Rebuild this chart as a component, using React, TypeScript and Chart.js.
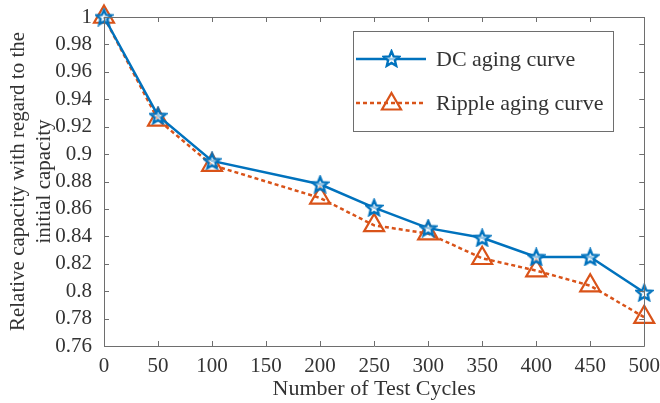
import React, { useEffect, useRef } from "react";
import { Chart, registerables } from "chart.js";

Chart.register(...registerables);

const cycles = [0, 50, 100, 200, 250, 300, 350, 400, 450, 500];
const dcValues = [1.0, 0.928, 0.895, 0.878, 0.861, 0.846, 0.839, 0.825, 0.825, 0.799];
const rippleValues = [1.0, 0.925, 0.892, 0.868, 0.848, 0.842, 0.824, 0.815, 0.804, 0.781];
const xTicks = [0, 50, 100, 150, 200, 250, 300, 350, 400, 450, 500];
const yTicks = [0.76, 0.78, 0.8, 0.82, 0.84, 0.86, 0.88, 0.9, 0.92, 0.94, 0.96, 0.98, 1];
const seriesNames = ["DC aging curve", "Ripple aging curve"];
const xTitle = "Number of Test Cycles";
const yTitle = ["Relative capacity with regard to the", "initial capacity"];

const BLUE = "#0072BD";
const ORANGE = "#D95319";
const AXIS = "#6e6e6e";
const TEXT = "#333333";
const FONT = "'Liberation Serif', 'Times New Roman', serif";

function makeStar(size: number, color: string): HTMLCanvasElement {
  const c = document.createElement("canvas");
  c.width = size;
  c.height = size;
  const ctx = c.getContext("2d")!;
  const cx = size / 2;
  const cy = size / 2 + 0.8;
  const R = size / 2 - 1.5;
  const r = R * 0.45;
  ctx.beginPath();
  for (let i = 0; i < 10; i++) {
    const rad = i % 2 === 0 ? R : r;
    const a = -Math.PI / 2 + (i * Math.PI) / 5;
    const px = cx + rad * Math.cos(a);
    const py = cy + rad * Math.sin(a);
    if (i === 0) ctx.moveTo(px, py);
    else ctx.lineTo(px, py);
  }
  ctx.closePath();
  ctx.fillStyle = "rgba(255,255,255,0.6)";
  ctx.fill();
  ctx.strokeStyle = color;
  ctx.lineWidth = 2.4;
  ctx.lineJoin = "miter";
  ctx.stroke();
  return c;
}

const boxPlugin = {
  id: "boxTicks",
  afterDatasetsDraw(chart: any) {
    const { ctx, chartArea } = chart;
    const { left, right, top, bottom } = chartArea;
    const xs = chart.scales.x;
    const ys = chart.scales.y;
    ctx.save();
    ctx.strokeStyle = AXIS;
    ctx.lineWidth = 1;
    ctx.beginPath();
    ctx.rect(Math.round(left) + 0.5, Math.round(top) + 0.5, Math.round(right - left), Math.round(bottom - top));
    ctx.stroke();
    const tl = 5;
    ctx.beginPath();
    xTicks.forEach((v) => {
      const x = Math.round(xs.getPixelForValue(v)) + 0.5;
      ctx.moveTo(x, bottom);
      ctx.lineTo(x, bottom - tl);
      ctx.moveTo(x, top);
      ctx.lineTo(x, top + tl);
    });
    yTicks.forEach((v) => {
      const y = Math.round(ys.getPixelForValue(v)) + 0.5;
      ctx.moveTo(left, y);
      ctx.lineTo(left + tl, y);
      ctx.moveTo(right, y);
      ctx.lineTo(right - tl, y);
    });
    ctx.stroke();

    // legend box
    const lx = 353, ly = 31, lw = 260, lh = 100;
    ctx.fillStyle = "#ffffff";
    ctx.fillRect(lx, ly, lw, lh);
    ctx.strokeStyle = AXIS;
    ctx.strokeRect(lx + 0.5, ly + 0.5, lw, lh);
    const rows = [ly + 28, ly + 72];
    // DC row
    ctx.lineWidth = 2.5;
    ctx.strokeStyle = BLUE;
    ctx.setLineDash([]);
    ctx.beginPath();
    ctx.moveTo(lx + 3, rows[0]);
    ctx.lineTo(lx + 73, rows[0]);
    ctx.stroke();
    const star = makeStar(19, BLUE);
    ctx.drawImage(star, lx + 38.5 - 9.5, rows[0] - 10);
    // Ripple row
    ctx.strokeStyle = ORANGE;
    ctx.setLineDash([4, 3]);
    ctx.beginPath();
    ctx.moveTo(lx + 3, rows[1]);
    ctx.lineTo(lx + 73, rows[1]);
    ctx.stroke();
    ctx.setLineDash([]);
    ctx.lineWidth = 2.2;
    const tr = 11;
    const tcx = lx + 38.5, tcy = rows[1] + 1;
    ctx.beginPath();
    ctx.moveTo(tcx, tcy - tr);
    ctx.lineTo(tcx + tr * Math.sin((2 * Math.PI) / 3), tcy - tr * Math.cos((2 * Math.PI) / 3));
    ctx.lineTo(tcx + tr * Math.sin((4 * Math.PI) / 3), tcy - tr * Math.cos((4 * Math.PI) / 3));
    ctx.closePath();
    ctx.stroke();
    ctx.fillStyle = TEXT;
    ctx.font = `22px ${FONT}`;
    ctx.textBaseline = "middle";
    ctx.textAlign = "left";
    ctx.fillText(seriesNames[0], lx + 83, rows[0] + 1);
    ctx.fillText(seriesNames[1], lx + 83, rows[1] + 1);
    ctx.restore();
  },
};

function fmt(v: number): string {
  return String(Number(v.toFixed(2)));
}

export default function App() {
  const ref = useRef<HTMLCanvasElement | null>(null);
  useEffect(() => {
    document.body.style.margin = "0";
    const star = makeStar(19, BLUE);
    const chart = new Chart(ref.current!, {
      type: "line",
      data: {
        datasets: [
          {
            label: seriesNames[0],
            data: cycles.map((c, i) => ({ x: c, y: dcValues[i] })),
            borderColor: BLUE,
            backgroundColor: "rgba(0,0,0,0)",
            borderWidth: 2.5,
            pointStyle: star as any,
            pointRadius: 9,
            tension: 0,
          },
          {
            label: seriesNames[1],
            data: cycles.map((c, i) => ({ x: c, y: rippleValues[i] })),
            borderColor: ORANGE,
            backgroundColor: "rgba(0,0,0,0)",
            borderWidth: 2.5,
            borderDash: [4, 3],
            pointStyle: "triangle",
            pointRadius: 11.5,
            pointBorderWidth: 2.2,
            pointBorderColor: ORANGE,
            pointBackgroundColor: "rgba(0,0,0,0)",
            tension: 0,
          },
        ],
      },
      options: {
        animation: false,
        responsive: false,
        clip: false as any,
        layout: { padding: { left: 0, right: 12, top: 17, bottom: 0 } },
        plugins: { legend: { display: false }, tooltip: { enabled: false } },
        scales: {
          x: {
            type: "linear",
            min: 0,
            max: 500,
            grid: { display: false },
            border: { display: false },
            afterBuildTicks: (s: any) => {
              s.ticks = xTicks.map((v) => ({ value: v }));
            },
            afterFit: (s: any) => {
              s.height = 57;
            },
            ticks: {
              color: TEXT,
              font: { family: FONT, size: 21 },
              padding: 0,
              maxRotation: 0,
              autoSkip: false,
              callback: (v: any) => fmt(Number(v)),
            },
            title: {
              display: true,
              text: xTitle,
              color: TEXT,
              font: { family: FONT, size: 22, lineHeight: 1.2 },
              padding: { top: 0, bottom: 1 },
            },
          },
          y: {
            type: "linear",
            min: 0.76,
            max: 1,
            grid: { display: false },
            border: { display: false },
            afterBuildTicks: (s: any) => {
              s.ticks = yTicks.map((v) => ({ value: v }));
            },
            afterFit: (s: any) => {
              s.width = 104;
            },
            ticks: {
              color: TEXT,
              font: { family: FONT, size: 21 },
              padding: 4,
              autoSkip: false,
              callback: (v: any) => fmt(Number(v)),
            },
            title: {
              display: true,
              text: yTitle,
              color: TEXT,
              font: { family: FONT, size: 21, lineHeight: 1.25 },
              padding: { top: 5, bottom: 0 },
            },
          },
        },
      } as any,
      plugins: [boxPlugin],
    });
    return () => chart.destroy();
  }, []);
  return (
    <div style={{ width: 660, height: 403 }}>
      <canvas ref={ref} width={660} height={403} style={{ display: "block" }} />
    </div>
  );
}
